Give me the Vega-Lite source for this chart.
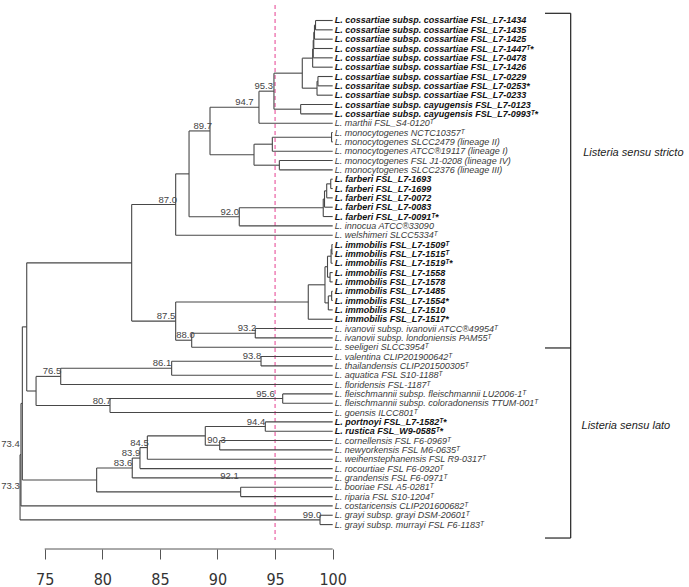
{
  "$schema": "https://vega.github.io/schema/vega-lite/v6.json",
  "width": 689,
  "height": 549,
  "padding": 0,
  "autosize": {"type": "pad"},
  "background": "white",
  "config": {"view": {"stroke": null}},
  "datasets": {
    "nodes": [
      {"id":"K1","x":98.51,"c1x":100,"c1y":1,"c2x":100,"c2y":2},
      {"id":"K2","x":98.42,"c1x":98.51,"c1y":1.5,"c2x":100,"c2y":3},
      {"id":"K3","x":98.36,"c1x":98.42,"c1y":2.25,"c2x":100,"c2y":4},
      {"id":"K4","x":98.31,"c1x":98.36,"c1y":3.125,"c2x":100,"c2y":5},
      {"id":"K","x":98.26,"c1x":98.31,"c1y":4.0625,"c2x":100,"c2y":6},
      {"id":"L1","x":98.72,"c1x":100,"c1y":7,"c2x":100,"c2y":8},
      {"id":"L","x":98.64,"c1x":98.72,"c1y":7.5,"c2x":100,"c2y":9},
      {"id":"I","x":97.36,"c1x":98.26,"c1y":5.031,"c2x":98.64,"c2y":8.25},
      {"id":"J","x":97.22,"c1x":100,"c1y":10,"c2x":100,"c2y":11},
      {"id":"H","x":94.9,"c1x":97.36,"c1y":6.641,"c2x":97.22,"c2y":10.5},
      {"id":"G","x":93.6,"c1x":94.9,"c1y":8.57,"c2x":100,"c2y":12},
      {"id":"M11","x":99.9,"c1x":100,"c1y":13,"c2x":100,"c2y":14},
      {"id":"M1","x":94.76,"c1x":99.9,"c1y":13.5,"c2x":100,"c2y":15},
      {"id":"M2","x":95.37,"c1x":100,"c1y":16,"c2x":100,"c2y":17},
      {"id":"M","x":93.17,"c1x":94.76,"c1y":14.25,"c2x":95.37,"c2y":16.5},
      {"id":"D","x":89.35,"c1x":93.6,"c1y":10.285,"c2x":93.17,"c2y":15.375},
      {"id":"F1","x":99.83,"c1x":100,"c1y":18,"c2x":100,"c2y":19},
      {"id":"F2","x":99.48,"c1x":99.83,"c1y":18.5,"c2x":100,"c2y":20},
      {"id":"F3","x":99.29,"c1x":99.48,"c1y":19.25,"c2x":100,"c2y":21},
      {"id":"F","x":99.18,"c1x":99.29,"c1y":20.125,"c2x":100,"c2y":22},
      {"id":"E","x":91.89,"c1x":99.18,"c1y":21.0625,"c2x":100,"c2y":23},
      {"id":"C","x":87.53,"c1x":89.35,"c1y":12.83,"c2x":91.89,"c2y":22.031},
      {"id":"A","x":86.37,"c1x":87.53,"c1y":17.43,"c2x":100,"c2y":24},
      {"id":"N2a","x":99.93,"c1x":100,"c1y":25,"c2x":100,"c2y":26},
      {"id":"N2b","x":99.86,"c1x":99.93,"c1y":25.5,"c2x":100,"c2y":27},
      {"id":"N2c","x":99.77,"c1x":100,"c1y":28,"c2x":100,"c2y":29},
      {"id":"N2","x":99.55,"c1x":99.86,"c1y":26.25,"c2x":99.77,"c2y":28.5},
      {"id":"N3a","x":99.91,"c1x":100,"c1y":30,"c2x":100,"c2y":31},
      {"id":"N3","x":99.62,"c1x":99.91,"c1y":30.5,"c2x":100,"c2y":32},
      {"id":"N1","x":99.33,"c1x":99.55,"c1y":27.375,"c2x":99.62,"c2y":31.25},
      {"id":"N","x":97.88,"c1x":99.33,"c1y":29.3125,"c2x":100,"c2y":33},
      {"id":"P","x":93.28,"c1x":100,"c1y":34,"c2x":100,"c2y":35},
      {"id":"O","x":87.76,"c1x":93.28,"c1y":34.5,"c2x":100,"c2y":36},
      {"id":"B","x":86.37,"c1x":97.88,"c1y":31.156,"c2x":87.76,"c2y":35.25},
      {"id":"S","x":82.55,"c1x":86.37,"c1y":20.715,"c2x":86.37,"c2y":33.203},
      {"id":"T","x":93.78,"c1x":100,"c1y":37,"c2x":100,"c2y":38},
      {"id":"S1","x":86.02,"c1x":93.78,"c1y":37.5,"c2x":100,"c2y":39},
      {"id":"Q","x":76.39,"c1x":86.02,"c1y":38.25,"c2x":100,"c2y":40},
      {"id":"U","x":95.66,"c1x":100,"c1y":41,"c2x":100,"c2y":42},
      {"id":"R","x":80.67,"c1x":95.66,"c1y":41.5,"c2x":100,"c2y":43},
      {"id":"NL1","x":74.25,"c1x":76.39,"c1y":39.125,"c2x":80.67,"c2y":42.25},
      {"id":"NC","x":73.44,"c1x":82.55,"c1y":26.96,"c2x":74.25,"c2y":40.69},
      {"id":"AB","x":94.15,"c1x":100,"c1y":44,"c2x":100,"c2y":45},
      {"id":"AC","x":90.19,"c1x":100,"c1y":46,"c2x":100,"c2y":47},
      {"id":"AA","x":88.94,"c1x":94.15,"c1y":44.5,"c2x":90.19,"c2y":46.5},
      {"id":"Z","x":83.91,"c1x":88.94,"c1y":45.5,"c2x":100,"c2y":48},
      {"id":"Y","x":83.27,"c1x":83.91,"c1y":46.75,"c2x":100,"c2y":49},
      {"id":"W","x":82.6,"c1x":83.27,"c1y":47.875,"c2x":100,"c2y":50},
      {"id":"X","x":92.01,"c1x":100,"c1y":51,"c2x":100,"c2y":52},
      {"id":"V","x":79.51,"c1x":82.6,"c1y":48.94,"c2x":92.01,"c2y":51.5},
      {"id":"NB","x":73.06,"c1x":73.44,"c1y":33.82,"c2x":79.51,"c2y":50.22},
      {"id":"NA","x":72.94,"c1x":73.06,"c1y":42.02,"c2x":100,"c2y":53},
      {"id":"GR","x":98.9,"c1x":100,"c1y":54,"c2x":100,"c2y":55},
      {"id":"R0","x":72.86,"c1x":72.94,"c1y":47.51,"c2x":98.9,"c2y":54.5}
    ],
    "leaves": [
      {"y":1,"x":100,"novel":true,"label":"L. cossartiae subsp. cossartiae FSL_L7-1434"},
      {"y":2,"x":100,"novel":true,"label":"L. cossartiae subsp. cossartiae FSL_L7-1435"},
      {"y":3,"x":100,"novel":true,"label":"L. cossartiae subsp. cossartiae FSL_L7-1425"},
      {"y":4,"x":100,"novel":true,"label":"L. cossartiae subsp. cossartiae FSL_L7-1447ᵀ*"},
      {"y":5,"x":100,"novel":true,"label":"L. cossartiae subsp. cossartiae FSL_L7-0478"},
      {"y":6,"x":100,"novel":true,"label":"L. cossartiae subsp. cossartiae FSL_L7-1426"},
      {"y":7,"x":100,"novel":true,"label":"L. cossartiae subsp. cossartiae FSL_L7-0229"},
      {"y":8,"x":100,"novel":true,"label":"L. cossaritae subsp. cossartiae FSL_L7-0253*"},
      {"y":9,"x":100,"novel":true,"label":"L. cossartiae subsp. cossartiae FSL_L7-0233"},
      {"y":10,"x":100,"novel":true,"label":"L. cossartiae subsp. cayugensis FSL_L7-0123"},
      {"y":11,"x":100,"novel":true,"label":"L. cossartiae subsp. cayugensis FSL_L7-0993ᵀ*"},
      {"y":12,"x":100,"novel":false,"label":"L. marthii FSL_S4-0120ᵀ"},
      {"y":13,"x":100,"novel":false,"label":"L. monocytogenes NCTC10357ᵀ"},
      {"y":14,"x":100,"novel":false,"label":"L. monocytogenes SLCC2479 (lineage II)"},
      {"y":15,"x":100,"novel":false,"label":"L. monocytogenes ATCC®19117 (lineage I)"},
      {"y":16,"x":100,"novel":false,"label":"L. monocytogenes FSL J1-0208 (lineage IV)"},
      {"y":17,"x":100,"novel":false,"label":"L. monocytogenes SLCC2376 (lineage III)"},
      {"y":18,"x":100,"novel":true,"label":"L. farberi FSL_L7-1693"},
      {"y":19,"x":100,"novel":true,"label":"L. farberi FSL_L7-1699"},
      {"y":20,"x":100,"novel":true,"label":"L. farberi FSL_L7-0072"},
      {"y":21,"x":100,"novel":true,"label":"L. farberi FSL_L7-0083"},
      {"y":22,"x":100,"novel":true,"label":"L. farberi FSL_L7-0091ᵀ*"},
      {"y":23,"x":100,"novel":false,"label":"L. innocua ATCC®33090"},
      {"y":24,"x":100,"novel":false,"label":"L. welshimeri SLCC5334ᵀ"},
      {"y":25,"x":100,"novel":true,"label":"L. immobilis FSL_L7-1509ᵀ"},
      {"y":26,"x":100,"novel":true,"label":"L. immobilis FSL_L7-1515ᵀ"},
      {"y":27,"x":100,"novel":true,"label":"L. immobilis  FSL_L7-1519ᵀ*"},
      {"y":28,"x":100,"novel":true,"label":"L. immobilis FSL_L7-1558"},
      {"y":29,"x":100,"novel":true,"label":"L. immobilis FSL_L7-1578"},
      {"y":30,"x":100,"novel":true,"label":"L. immobilis FSL_L7-1485"},
      {"y":31,"x":100,"novel":true,"label":"L. immobilis FSL_L7-1554*"},
      {"y":32,"x":100,"novel":true,"label":"L. immobilis FSL_L7-1510"},
      {"y":33,"x":100,"novel":true,"label":"L. immobilis FSL_L7-1517*"},
      {"y":34,"x":100,"novel":false,"label":"L. ivanovii subsp. ivanovii  ATCC®49954ᵀ"},
      {"y":35,"x":100,"novel":false,"label":"L. ivanovii subsp. londoniensis PAM55ᵀ"},
      {"y":36,"x":100,"novel":false,"label":"L. seeligeri SLCC3954ᵀ"},
      {"y":37,"x":100,"novel":false,"label":"L. valentina CLIP201900642ᵀ"},
      {"y":38,"x":100,"novel":false,"label":"L. thailandensis CLIP201500305ᵀ"},
      {"y":39,"x":100,"novel":false,"label":"L. aquatica FSL S10-1188ᵀ"},
      {"y":40,"x":100,"novel":false,"label":"L. floridensis FSL-1187ᵀ"},
      {"y":41,"x":100,"novel":false,"label":"L. fleischmannii subsp. fleischmannii LU2006-1ᵀ"},
      {"y":42,"x":100,"novel":false,"label":"L. fleischmannii subsp. coloradonensis TTUM-001ᵀ"},
      {"y":43,"x":100,"novel":false,"label":"L. goensis ILCC801ᵀ"},
      {"y":44,"x":100,"novel":true,"label":"L. portnoyi  FSL_L7-1582ᵀ*"},
      {"y":45,"x":100,"novel":true,"label":"L. rustica FSL_W9-0585ᵀ*"},
      {"y":46,"x":100,"novel":false,"label":"L. cornellensis FSL F6-0969ᵀ"},
      {"y":47,"x":100,"novel":false,"label":"L. newyorkensis FSL M6-0635ᵀ"},
      {"y":48,"x":100,"novel":false,"label":"L. weihenstephanensis FSL R9-0317ᵀ"},
      {"y":49,"x":100,"novel":false,"label":"L. rocourtiae FSL F6-0920ᵀ"},
      {"y":50,"x":100,"novel":false,"label":"L. grandensis FSL F6-0971ᵀ"},
      {"y":51,"x":100,"novel":false,"label":"L. booriae FSL A5-0281ᵀ"},
      {"y":52,"x":100,"novel":false,"label":"L. riparia FSL S10-1204ᵀ"},
      {"y":53,"x":100,"novel":false,"label":"L. costaricensis CLIP201600682ᵀ"},
      {"y":54,"x":100,"novel":false,"label":"L. grayi subsp. grayi DSM-20601ᵀ"},
      {"y":55,"x":100,"novel":false,"label":"L. grayi subsp. murrayi FSL F6-1183ᵀ"}
    ],
    "support": [
      {"x":94.82,"y":8.57,"t":"95.3"},
      {"x":93.14,"y":10.285,"t":"94.7"},
      {"x":89.52,"y":12.83,"t":"89.7"},
      {"x":86.48,"y":20.715,"t":"87.0"},
      {"x":91.87,"y":22.031,"t":"92.0"},
      {"x":86.34,"y":33.203,"t":"87.5"},
      {"x":93.37,"y":34.5,"t":"93.2"},
      {"x":88.02,"y":35.25,"t":"88.0"},
      {"x":85.99,"y":38.25,"t":"86.1"},
      {"x":93.8,"y":37.5,"t":"93.8"},
      {"x":76.44,"y":39.125,"t":"76.5"},
      {"x":94.97,"y":41.5,"t":"95.6"},
      {"x":80.78,"y":42.25,"t":"80.7"},
      {"x":94.15,"y":44.5,"t":"94.4"},
      {"x":84.03,"y":46.75,"t":"84.5"},
      {"x":90.71,"y":46.5,"t":"90.3"},
      {"x":83.3,"y":47.875,"t":"83.9"},
      {"x":82.6,"y":48.94,"t":"83.6"},
      {"x":91.84,"y":50.33,"t":"92.1"},
      {"x":99.01,"y":54.5,"t":"99.0"},
      {"x":72.83,"y":46.9,"t":"73.4"},
      {"x":72.83,"y":51.36,"t":"73.3"}
    ],
    "brackets": [
      {"x":120.66,"x2":120.66,"y":0.229,"y2":56.44},
      {"x":118.43,"x2":120.66,"y":0.229,"y2":0.229},
      {"x":118.43,"x2":120.66,"y":36.08,"y2":36.08},
      {"x":118.43,"x2":120.66,"y":56.44,"y2":56.44}
    ],
    "groups": [
      {"x":121.75,"y":15.19,"t":"Listeria sensu stricto"},
      {"x":121.6,"y":44.44,"t":"Listeria sensu lato"}
    ]
  },
  "layer": [
    {
      "data": {"values": [{"x":75,"x2":100,"y":57.615}]},
      "mark": {"type": "rule", "color": "#555555", "strokeWidth": 1},
      "encoding": {
        "x": {"field": "x", "type": "quantitative",
              "scale": {"domain": [71.12, 130.93], "nice": false, "zero": false},
              "axis": {"values": [75, 80, 85, 90, 95, 100], "domain": false, "grid": false,
                       "tickSize": 10, "tickColor": "#555555", "tickWidth": 1,
                       "labelFont": "Liberation Sans Narrow, DejaVu Sans Condensed, Liberation Sans, sans-serif",
                       "labelFontSize": 16,
                       "labelColor": "#333333", "labelPadding": 12, "title": null,
                       "labelFlush": false}},
        "x2": {"field": "x2"},
        "y": {"field": "y", "type": "quantitative",
              "scale": {"domain": [-1.196, 57.615], "reverse": true, "nice": false, "zero": false},
              "axis": null}
      }
    },
    {
      "data": {"values": [{"x":95,"y":-0.66,"y2":56.65}]},
      "mark": {"type": "rule", "color": "#ee7fb6", "strokeWidth": 1.5, "strokeDash": [4, 3]},
      "encoding": {
        "x": {"field": "x", "type": "quantitative"},
        "y": {"field": "y", "type": "quantitative"},
        "y2": {"field": "y2"}
      }
    },
    {
      "data": {"name": "nodes"},
      "mark": {"type": "rule", "color": "#474747", "strokeWidth": 1.1},
      "encoding": {
        "x": {"field": "x", "type": "quantitative"},
        "y": {"field": "c1y", "type": "quantitative"},
        "y2": {"field": "c2y"}
      }
    },
    {
      "data": {"name": "nodes"},
      "mark": {"type": "rule", "color": "#474747", "strokeWidth": 1.1},
      "encoding": {
        "x": {"field": "x", "type": "quantitative"},
        "x2": {"field": "c1x"},
        "y": {"field": "c1y", "type": "quantitative"}
      }
    },
    {
      "data": {"name": "nodes"},
      "mark": {"type": "rule", "color": "#474747", "strokeWidth": 1.1},
      "encoding": {
        "x": {"field": "x", "type": "quantitative"},
        "x2": {"field": "c2x"},
        "y": {"field": "c2y", "type": "quantitative"}
      }
    },
    {
      "data": {"name": "leaves"},
      "transform": [{"filter": "!datum.novel"}],
      "mark": {"type": "text", "align": "left", "baseline": "middle", "dx": 2,
               "font": "Liberation Sans", "fontSize": 9, "fontStyle": "italic", "color": "#3a3a3a"},
      "encoding": {
        "x": {"field": "x", "type": "quantitative"},
        "y": {"field": "y", "type": "quantitative"},
        "text": {"field": "label"}
      }
    },
    {
      "data": {"name": "leaves"},
      "transform": [{"filter": "datum.novel"}],
      "mark": {"type": "text", "align": "left", "baseline": "middle", "dx": 2,
               "font": "Liberation Sans", "fontSize": 9, "fontStyle": "italic", "fontWeight": "bold", "color": "#111111"},
      "encoding": {
        "x": {"field": "x", "type": "quantitative"},
        "y": {"field": "y", "type": "quantitative"},
        "text": {"field": "label"}
      }
    },
    {
      "data": {"name": "support"},
      "mark": {"type": "text", "align": "right", "baseline": "bottom",
               "font": "Liberation Sans", "fontSize": 9.5, "color": "#444444"},
      "encoding": {
        "x": {"field": "x", "type": "quantitative"},
        "y": {"field": "y", "type": "quantitative"},
        "text": {"field": "t"}
      }
    },
    {
      "data": {"name": "brackets"},
      "mark": {"type": "rule", "color": "#222222", "strokeWidth": 1.2},
      "encoding": {
        "x": {"field": "x", "type": "quantitative"},
        "x2": {"field": "x2"},
        "y": {"field": "y", "type": "quantitative"},
        "y2": {"field": "y2"}
      }
    },
    {
      "data": {"name": "groups"},
      "mark": {"type": "text", "align": "left", "baseline": "middle",
               "font": "Liberation Sans", "fontSize": 11, "fontStyle": "italic", "color": "#222222"},
      "encoding": {
        "x": {"field": "x", "type": "quantitative"},
        "y": {"field": "y", "type": "quantitative"},
        "text": {"field": "t"}
      }
    }
  ]
}
